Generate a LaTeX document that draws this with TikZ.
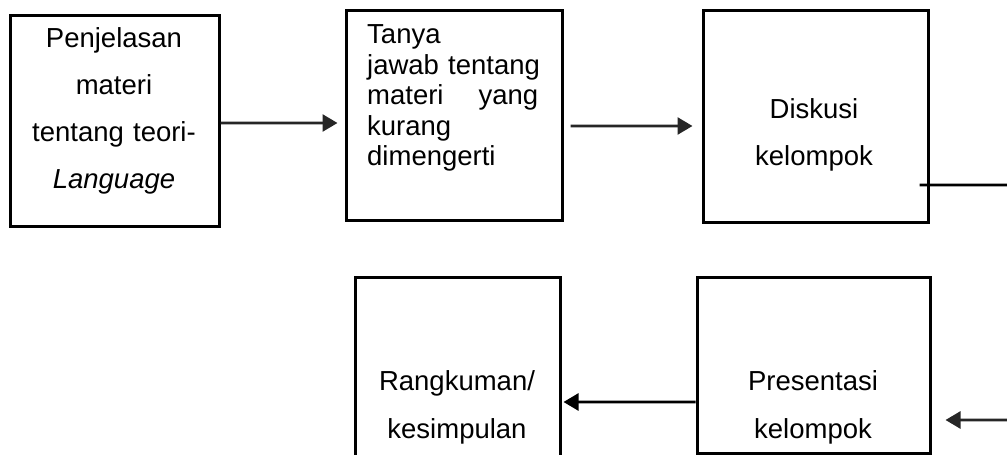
\documentclass[tikz,border=0pt]{standalone}
\usepackage{fontspec}
\setmainfont{Liberation Sans}
\usetikzlibrary{arrows.meta}
\tikzset{
  box/.style={draw=black, line width=3bp, rectangle, inner sep=0pt, fill=white},
  txt/.style={inner sep=0pt, font=\fontsize{27.5bp}{47bp}\selectfont},
  conn/.style={draw=black!85, line width=2.6bp},
  arr/.style={conn, -{Triangle[length=15bp,width=17bp]}}
}
\begin{document}
\begin{tikzpicture}[x=1bp,y=-1bp]
\useasboundingbox[fill=white] (0,0) rectangle (1007,455);
% boxes
\node[box, minimum width=208bp, minimum height=211bp] (b1) at (115,121.5) {};
\node[box, minimum width=216bp, minimum height=210bp] (b2) at (454,116) {};
\node[box, minimum width=225bp, minimum height=212bp] (b3) at (815.5,117) {};
\node[box, minimum width=205bp, minimum height=220bp] (b4) at (457.5,388) {};
\node[box, minimum width=233bp, minimum height=175bp] (b5) at (813.5,365.5) {};
% texts
\node[txt, anchor=base, text width=200bp, align=center] (t1) at (114,48)
  {Penjelasan\\materi\\tentang teori-\\\textit{Language}};
\node[txt, anchor=base west, text width=180bp, align=left,
      font=\fontsize{27.5bp}{30.5bp}\selectfont] (t2) at (367,44)
  {Tanya\\\mbox{jawab tentang}\\\leavevmode\hbox to 171bp{materi\hfill yang}\\kurang\\dimengerti};
\node[txt, anchor=base, text width=200bp, align=center] (t3) at (814,119)
  {Diskusi\\kelompok};
\node[txt, anchor=base, text width=190bp, align=center] (t4) at (457,391)
  {Rangkuman/\\kesimpulan};
\node[txt, anchor=base, text width=200bp, align=center] (t5) at (813,391)
  {Presentasi\\kelompok};
% connectors
\draw[arr, shorten >=7bp] ([yshift=-1.5bp]b1.east) -- ([yshift=-7bp]b2.west);
\draw[arr, shorten <=7bp, shorten >=9bp] ([yshift=-10bp]b2.east) -- ([yshift=-9bp]b3.west);
\coordinate (s3) at ([xshift=-10bp,yshift=-68bp]b3.east);
\coordinate (e1) at (1007,185);
\draw[conn, draw=black] (s3) -- (e1);
\coordinate (e2) at (1007,420);
\draw[arr, shorten >=14bp] (e2) -- ([yshift=-54.5bp]b5.east);
\draw[arr, draw=black, shorten >=2bp] ([yshift=-36.5bp]b5.west) -- ([yshift=-14bp]b4.east);
\end{tikzpicture}
\end{document}
